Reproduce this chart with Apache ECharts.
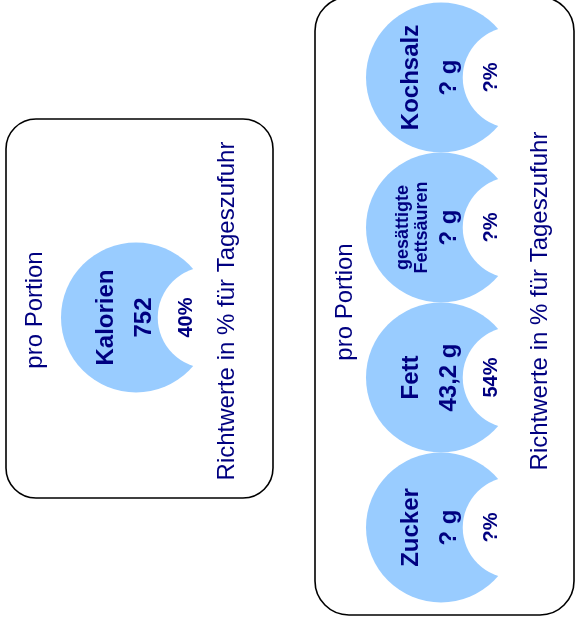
<!DOCTYPE html>
<html><head><meta charset="utf-8">
<script src="https://cdn.jsdelivr.net/npm/echarts@6/dist/echarts.min.js"></script>
<style>html,body{margin:0;padding:0;background:#fff}#c{width:576px;height:625px}</style>
</head><body><div id="c"></div>
<script>
// ---- data ----
const panelAItems = ['Kalorien'];
const panelAAmounts = ['752'];
const panelAPercents = ['40%'];
const panelBItems = ['Zucker', 'Fett', 'gesättigte\nFettsäuren', 'Kochsalz'];
const panelBAmounts = ['? g', '43,2 g', '? g', '? g'];
const panelBPercents = ['?%', '54%', '?%', '?%'];
const perPortionLabel = 'pro Portion';
const referenceLabel = 'Richtwerte in % für Tageszufuhr';

// ---- style ----
const BLUE = '#99CCFF';
const NAVY = '#000080';
const FONT = '"Liberation Sans", Arial, sans-serif';

function makeRender(names, amounts, percents) {
  return function (params, api) {
    const c = api.coord([0, api.value(1)]);
    const band = api.size([0, 1])[1];
    const r = band / 2;
    const cx = c[0], cy = c[1];
    const name = names[params.dataIndex];
    const multi = name.indexOf('\n') >= 0;
    const txt = (x, text, size, lh) => ({
      type: 'text', x: x, y: cy, rotation: Math.PI / 2,
      style: {
        text: text, font: 'bold ' + size + 'px ' + FONT, fill: NAVY,
        align: 'center', verticalAlign: 'middle', lineHeight: lh || size * 1.15
      }
    });
    return {
      type: 'group',
      children: [
        { type: 'circle', shape: { cx: cx, cy: cy, r: r }, style: { fill: BLUE } },
        { type: 'circle', shape: { cx: cx + 0.97 * r, cy: cy, r: 0.68 * r }, style: { fill: '#ffffff' } },
        multi ? txt(cx - 0.38 * r, name, 18, 19) : txt(cx - 0.40 * r, name, 24),
        txt(cx + 0.11 * r, amounts[params.dataIndex], 24),
        txt(cx + 0.67 * r, percents[params.dataIndex], 20)
      ]
    };
  };
}

function label(x, y, text) {
  return {
    type: 'text', x: x, y: y, rotation: Math.PI / 2, z: 100,
    style: { text: text, font: '24px ' + FONT, fill: NAVY, align: 'center', verticalAlign: 'middle' }
  };
}

const chart = echarts.init(document.getElementById('c'), null, { renderer: 'canvas' });
chart.setOption({
  backgroundColor: '#ffffff',
  animation: false,
  grid: [
    { left: 61, width: 150, top: 242.5, height: 150 },
    { left: 366, width: 150, top: 2.5, height: 600 }
  ],
  xAxis: [
    { gridIndex: 0, type: 'value', min: -1, max: 1, show: false },
    { gridIndex: 1, type: 'value', min: -1, max: 1, show: false }
  ],
  yAxis: [
    { gridIndex: 0, type: 'category', data: panelAItems, show: false },
    { gridIndex: 1, type: 'category', data: panelBItems, show: false }
  ],
  graphic: [
    { type: 'rect', z: 100, shape: { x: 6, y: 119, width: 267, height: 379, r: 30 },
      style: { fill: 'none', stroke: '#000', lineWidth: 1.6 } },
    { type: 'rect', z: 100, shape: { x: 315, y: -3, width: 259, height: 618, r: 34 },
      style: { fill: 'none', stroke: '#000', lineWidth: 1.6 } },
    label(35, 310, perPortionLabel),
    label(227, 311, referenceLabel),
    label(345, 302, perPortionLabel),
    label(540, 301, referenceLabel)
  ],
  series: [
    {
      type: 'custom', xAxisIndex: 0, yAxisIndex: 0, clip: false,
      renderItem: makeRender(panelAItems, panelAAmounts, panelAPercents),
      encode: { x: 0, y: 1 },
      data: panelAItems.map((n, i) => [0, i])
    },
    {
      type: 'custom', xAxisIndex: 1, yAxisIndex: 1, clip: false,
      renderItem: makeRender(panelBItems, panelBAmounts, panelBPercents),
      encode: { x: 0, y: 1 },
      data: panelBItems.map((n, i) => [0, i])
    }
  ]
});
</script>
</body></html>
